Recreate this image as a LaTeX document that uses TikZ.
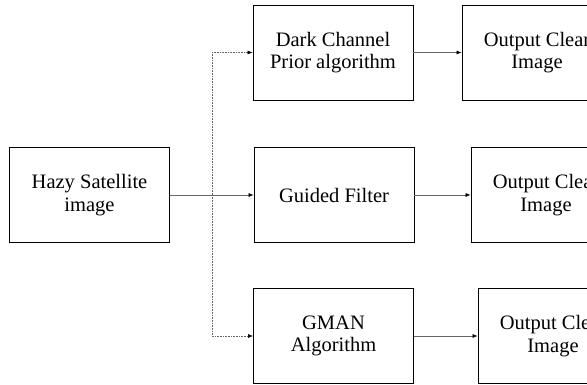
\documentclass[tikz,border=0pt]{standalone}
\usepackage{fontspec}
\setmainfont{Liberation Serif}
\usepackage{tikz}
\usetikzlibrary{arrows.meta, positioning}
\tikzset{
  blockbox/.style={draw=black, line width=0.8pt, minimum width=160pt, minimum height=95pt, align=center, font=\fontsize{20.5}{22.5}\selectfont, inner sep=0pt},
  outbox/.style={blockbox, minimum width=150pt},
  link/.style={draw=black!60, line width=0.6pt},
}

\begin{document}
\begin{tikzpicture}[x=1pt, y=-1pt, >={Latex[length=5pt, width=4pt, color=black]}]
        \useasboundingbox (0,0) rectangle (587,385);
        \clip (0,0) rectangle (587,385);
        % Nodes
        \node[blockbox] (hazy) at (89.5,195) {Hazy Satellite\\image};
        \node[blockbox] (dcp) at (333,52.5) {Dark Channel\\Prior algorithm};
        \node[blockbox] (guided) at (334,195) {Guided Filter};
        \node[blockbox] (gman) at (333.5,336) {GMAN\\Algorithm};
        \node[outbox] (out1) at (537,52.5) {Output Clear\\Image};
        \node[outbox] (out2) at (546,195) {Output Clear\\Image};
        \node[outbox] (out3) at (553,336) {Output Clear\\Image};
        \coordinate (split) at (212,195);

        % Directed edges
        \draw[link] (hazy) -- (split);
        \draw[link, ->] (split) -- (guided);
        \draw[link, densely dotted, ->] (split) |- (dcp);
        \draw[link, densely dotted, ->] (split) |- (gman);
        \draw[link, ->] (dcp) -- (out1);
        \draw[link, ->] (guided) -- (out2);
        \draw[link, ->] (gman) -- (out3);
    \end{tikzpicture}
\end{document}
